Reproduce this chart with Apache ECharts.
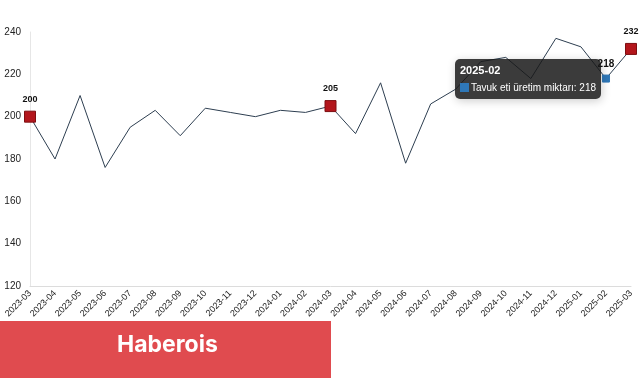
<!DOCTYPE html>
<html>
<head>
<meta charset="utf-8">
<script src="https://cdn.jsdelivr.net/npm/echarts@6/dist/echarts.min.js"></script>
<style>
html,body{margin:0;padding:0;background:#fff;}
#c{width:641px;height:380px;}
</style>
</head>
<body>
<div id="c"></div>
<script>
var categories = ['2023-03','2023-04','2023-05','2023-06','2023-07','2023-08','2023-09','2023-10','2023-11','2023-12','2024-01','2024-02','2024-03','2024-04','2024-05','2024-06','2024-07','2024-08','2024-09','2024-10','2024-11','2024-12','2025-01','2025-02','2025-03'];
var values = [200,180,210,176,195,203,191,204,202,200,203,202,205,192,216,178,206,213,226,228,218,237,233,218,232];
var highlightRed = ['2023-03','2024-03','2025-03'];
var highlightBlue = ['2025-02'];
var seriesName = 'Tavuk eti üretim miktarı';
var yTicks = [120,140,160,180,200,220,240];

var data = values.map(function(v,i){
  var cat = categories[i];
  if (highlightRed.indexOf(cat) >= 0) {
    return {value:v, symbol:'rect', symbolSize:11,
      itemStyle:{color:'#b3161c', borderColor:'#7d0f12', borderWidth:1},
      label:{show:true, position:'top', distance:7, color:'#111', fontWeight:'bold', fontSize:9}};
  }
  if (highlightBlue.indexOf(cat) >= 0) {
    return {value:v, symbol:'rect', symbolSize:7,
      itemStyle:{color:'#2f78b8', borderColor:'#2f78b8'},
      label:{show:true, position:'top', distance:5, color:'#111', fontWeight:'bold', fontSize:10}};
  }
  return {value:v, symbol:'none'};
});

var chart = echarts.init(document.getElementById('c'), null, {renderer:'canvas'});
chart.setOption({
  animation:false,
  textStyle:{fontFamily:'Liberation Sans, Arial, sans-serif'},
  grid:{left:30, right:10, top:32, bottom:94, containLabel:false},
  tooltip:{
    trigger:'item',
    alwaysShowContent:true,
    transitionDuration:0,
    backgroundColor:'rgba(25,25,25,0.85)',
    borderColor:'rgba(25,25,25,0.85)',
    borderWidth:0,
    borderRadius:5,
    padding:[4,5],
    textStyle:{color:'#fff', fontSize:10, fontFamily:'Liberation Sans, Arial, sans-serif'},
    position:function(point, params, dom, rect, size){
      return [point[0]-size.contentSize[0]-5, point[1]-size.contentSize[1]/2];
    },
    formatter:function(p){
      return '<div style="font-family:Liberation Sans,Arial,sans-serif;font-weight:bold;font-size:11px;line-height:15px;margin-bottom:2px;">'+p.name+'</div>'+
        '<div style="font-family:Liberation Sans,Arial,sans-serif;font-size:10px;line-height:15px;"><span style="display:inline-block;width:9px;height:9px;background:#2f78b8;margin-right:2px;vertical-align:-1px;"></span>'+
        p.seriesName+': '+p.value+'</div>';
    }
  },
  xAxis:{
    type:'category',
    data:categories,
    boundaryGap:false,
    axisLine:{show:true, lineStyle:{color:'#dcdcdc'}},
    axisTick:{show:false},
    axisLabel:{rotate:45, interval:0, fontSize:9, color:'#222', margin:6},
    splitLine:{show:false}
  },
  yAxis:{
    type:'value',
    min:yTicks[0], max:yTicks[yTicks.length-1], interval:20,
    axisLine:{show:true, lineStyle:{color:'#e6e6e6'}},
    axisTick:{show:false},
    axisLabel:{fontSize:10, color:'#222', margin:9},
    splitLine:{show:false}
  },
  series:[{
    name:seriesName,
    type:'line',
    data:data,
    symbol:'none',
    showSymbol:true,
    lineStyle:{color:'#2d3e50', width:1},
    itemStyle:{color:'#2d3e50'},
    emphasis:{disabled:true}
  }],
  graphic:[
    {type:'rect', left:0, top:321, shape:{width:331, height:57}, style:{fill:'#e04b4f'}, z:100},
    {type:'text', left:117, top:334, style:{text:'Haberois', fill:'#fff', font:'bold 23px Inter, Roboto, sans-serif'}, z:101}
  ]
});
chart.dispatchAction({type:'showTip', seriesIndex:0, dataIndex:categories.indexOf('2025-02')});
</script>
</body>
</html>
